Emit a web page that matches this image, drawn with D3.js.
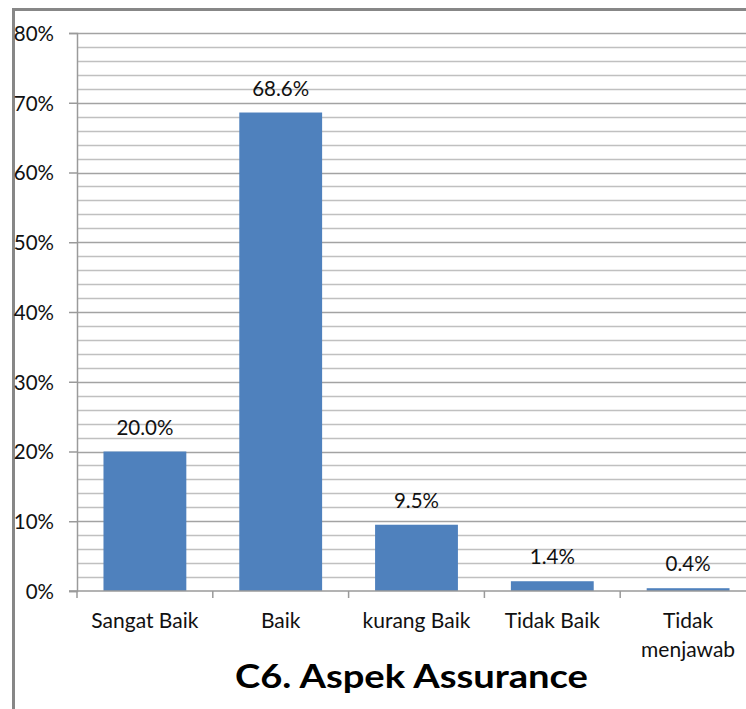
<!DOCTYPE html>
<html><head><meta charset="utf-8">
<script src="https://cdn.jsdelivr.net/npm/d3@7"></script>
<style>html,body{margin:0;padding:0;background:#fff;overflow:hidden}svg{display:block}</style>
</head><body>
<script>
const categories = ["Sangat Baik", "Baik", "kurang Baik", "Tidak Baik", "Tidak menjawab"];
const categoryLines = [["Sangat Baik"], ["Baik"], ["kurang Baik"], ["Tidak Baik"], ["Tidak", "menjawab"]];
const values = [20.0, 68.6, 9.5, 1.4, 0.4];
const valueLabels = ["20.0%", "68.6%", "9.5%", "1.4%", "0.4%"];
const majorTicks = [0, 10, 20, 30, 40, 50, 60, 70, 80];
const minorTicks = d3.range(0, 81, 2);
const title = "C6. Aspek Assurance";

const W = 746, H = 709;
const svg = d3.select("body").append("svg").attr("width", W).attr("height", H);
const font = "Lato, 'Open Sans', sans-serif";

// outer border (chart area frame, cropped on right/bottom)
svg.append("line").attr("x1", 13.5).attr("x2", 13.5).attr("y1", 8).attr("y2", H).attr("stroke", "#878787").attr("stroke-width", 3);
svg.append("line").attr("x1", 12).attr("x2", W).attr("y1", 9.5).attr("y2", 9.5).attr("stroke", "#878787").attr("stroke-width", 3);

const x0 = 77, bandW = 135.8;
const x = d3.scaleBand().domain(categories).range([x0, x0 + bandW * categories.length]).paddingInner(0.39).paddingOuter(0.195);
const y = d3.scaleLinear().domain([0, 80]).range([591, 33]);

const xEnd = x0 + bandW * categories.length;

// minor gridlines
svg.append("g").selectAll("line").data(minorTicks.filter(t => t % 10 !== 0)).join("line")
  .attr("x1", x0).attr("x2", xEnd).attr("y1", d => Math.round(y(d)) + 0.5).attr("y2", d => Math.round(y(d)) + 0.5)
  .attr("stroke", "#c0c0c0").attr("stroke-width", 1.3);
// major gridlines
svg.append("g").selectAll("line").data(majorTicks.filter(t => t > 0)).join("line")
  .attr("x1", x0).attr("x2", xEnd).attr("y1", d => Math.round(y(d)) + 0.5).attr("y2", d => Math.round(y(d)) + 0.5)
  .attr("stroke", "#a3a3a3").attr("stroke-width", 1.5);

// y axis
const yAxis = d3.axisLeft(y).tickValues(majorTicks).tickFormat(d => d + "%").tickSize(8).tickPadding(15);
const gy = svg.append("g").attr("transform", `translate(${x0},0)`).call(yAxis);
gy.select(".domain").attr("stroke", "#9a9a9a").attr("stroke-width", 1.5);
gy.selectAll(".tick line").attr("stroke", "#9a9a9a").attr("stroke-width", 1.5);
gy.selectAll(".tick text").attr("font-family", font).attr("font-size", 20.5).attr("fill", "#111").attr("dy", "0.36em");

// bars
svg.append("g").selectAll("rect").data(values).join("rect")
  .attr("x", (d, i) => x(categories[i])).attr("width", x.bandwidth())
  .attr("y", d => y(d)).attr("height", d => y(0) - y(d))
  .attr("fill", "#4f81bd");

// x axis baseline
svg.append("line").attr("x1", x0 - 8).attr("x2", xEnd).attr("y1", y(0)).attr("y2", y(0)).attr("stroke", "#9a9a9a").attr("stroke-width", 1.5);
// category boundary ticks
svg.append("g").selectAll("line").data(d3.range(categories.length + 1)).join("line")
  .attr("x1", i => x0 + i * bandW).attr("x2", i => x0 + i * bandW)
  .attr("y1", y(0)).attr("y2", y(0) + 7).attr("stroke", "#9a9a9a").attr("stroke-width", 1.5);

// value labels
svg.append("g").selectAll("text").data(values).join("text")
  .attr("x", (d, i) => x(categories[i]) + x.bandwidth() / 2)
  .attr("y", d => y(d) - 17)
  .attr("text-anchor", "middle").attr("font-family", font).attr("font-size", 20.5).attr("fill", "#111")
  .text((d, i) => valueLabels[i]);

// category labels
const cl = svg.append("g").selectAll("text").data(categories).join("text")
  .attr("x", d => x(d) + x.bandwidth() / 2).attr("y", 628)
  .attr("text-anchor", "middle").attr("font-family", font).attr("font-size", 21).attr("fill", "#111");
cl.selectAll("tspan").data((d, i) => categoryLines[i]).join("tspan")
  .attr("x", function() { return this.parentNode.getAttribute("x"); })
  .attr("dy", (d, j) => j === 0 ? 0 : 29).text(d => d);

// title
svg.append("text").attr("x", 411.5).attr("y", 688).attr("text-anchor", "middle")
  .attr("font-family", font).attr("font-weight", "bold").attr("font-size", 33).attr("fill", "#000")
  .attr("textLength", 353).attr("lengthAdjust", "spacingAndGlyphs").text(title);
</script>
</body></html>
